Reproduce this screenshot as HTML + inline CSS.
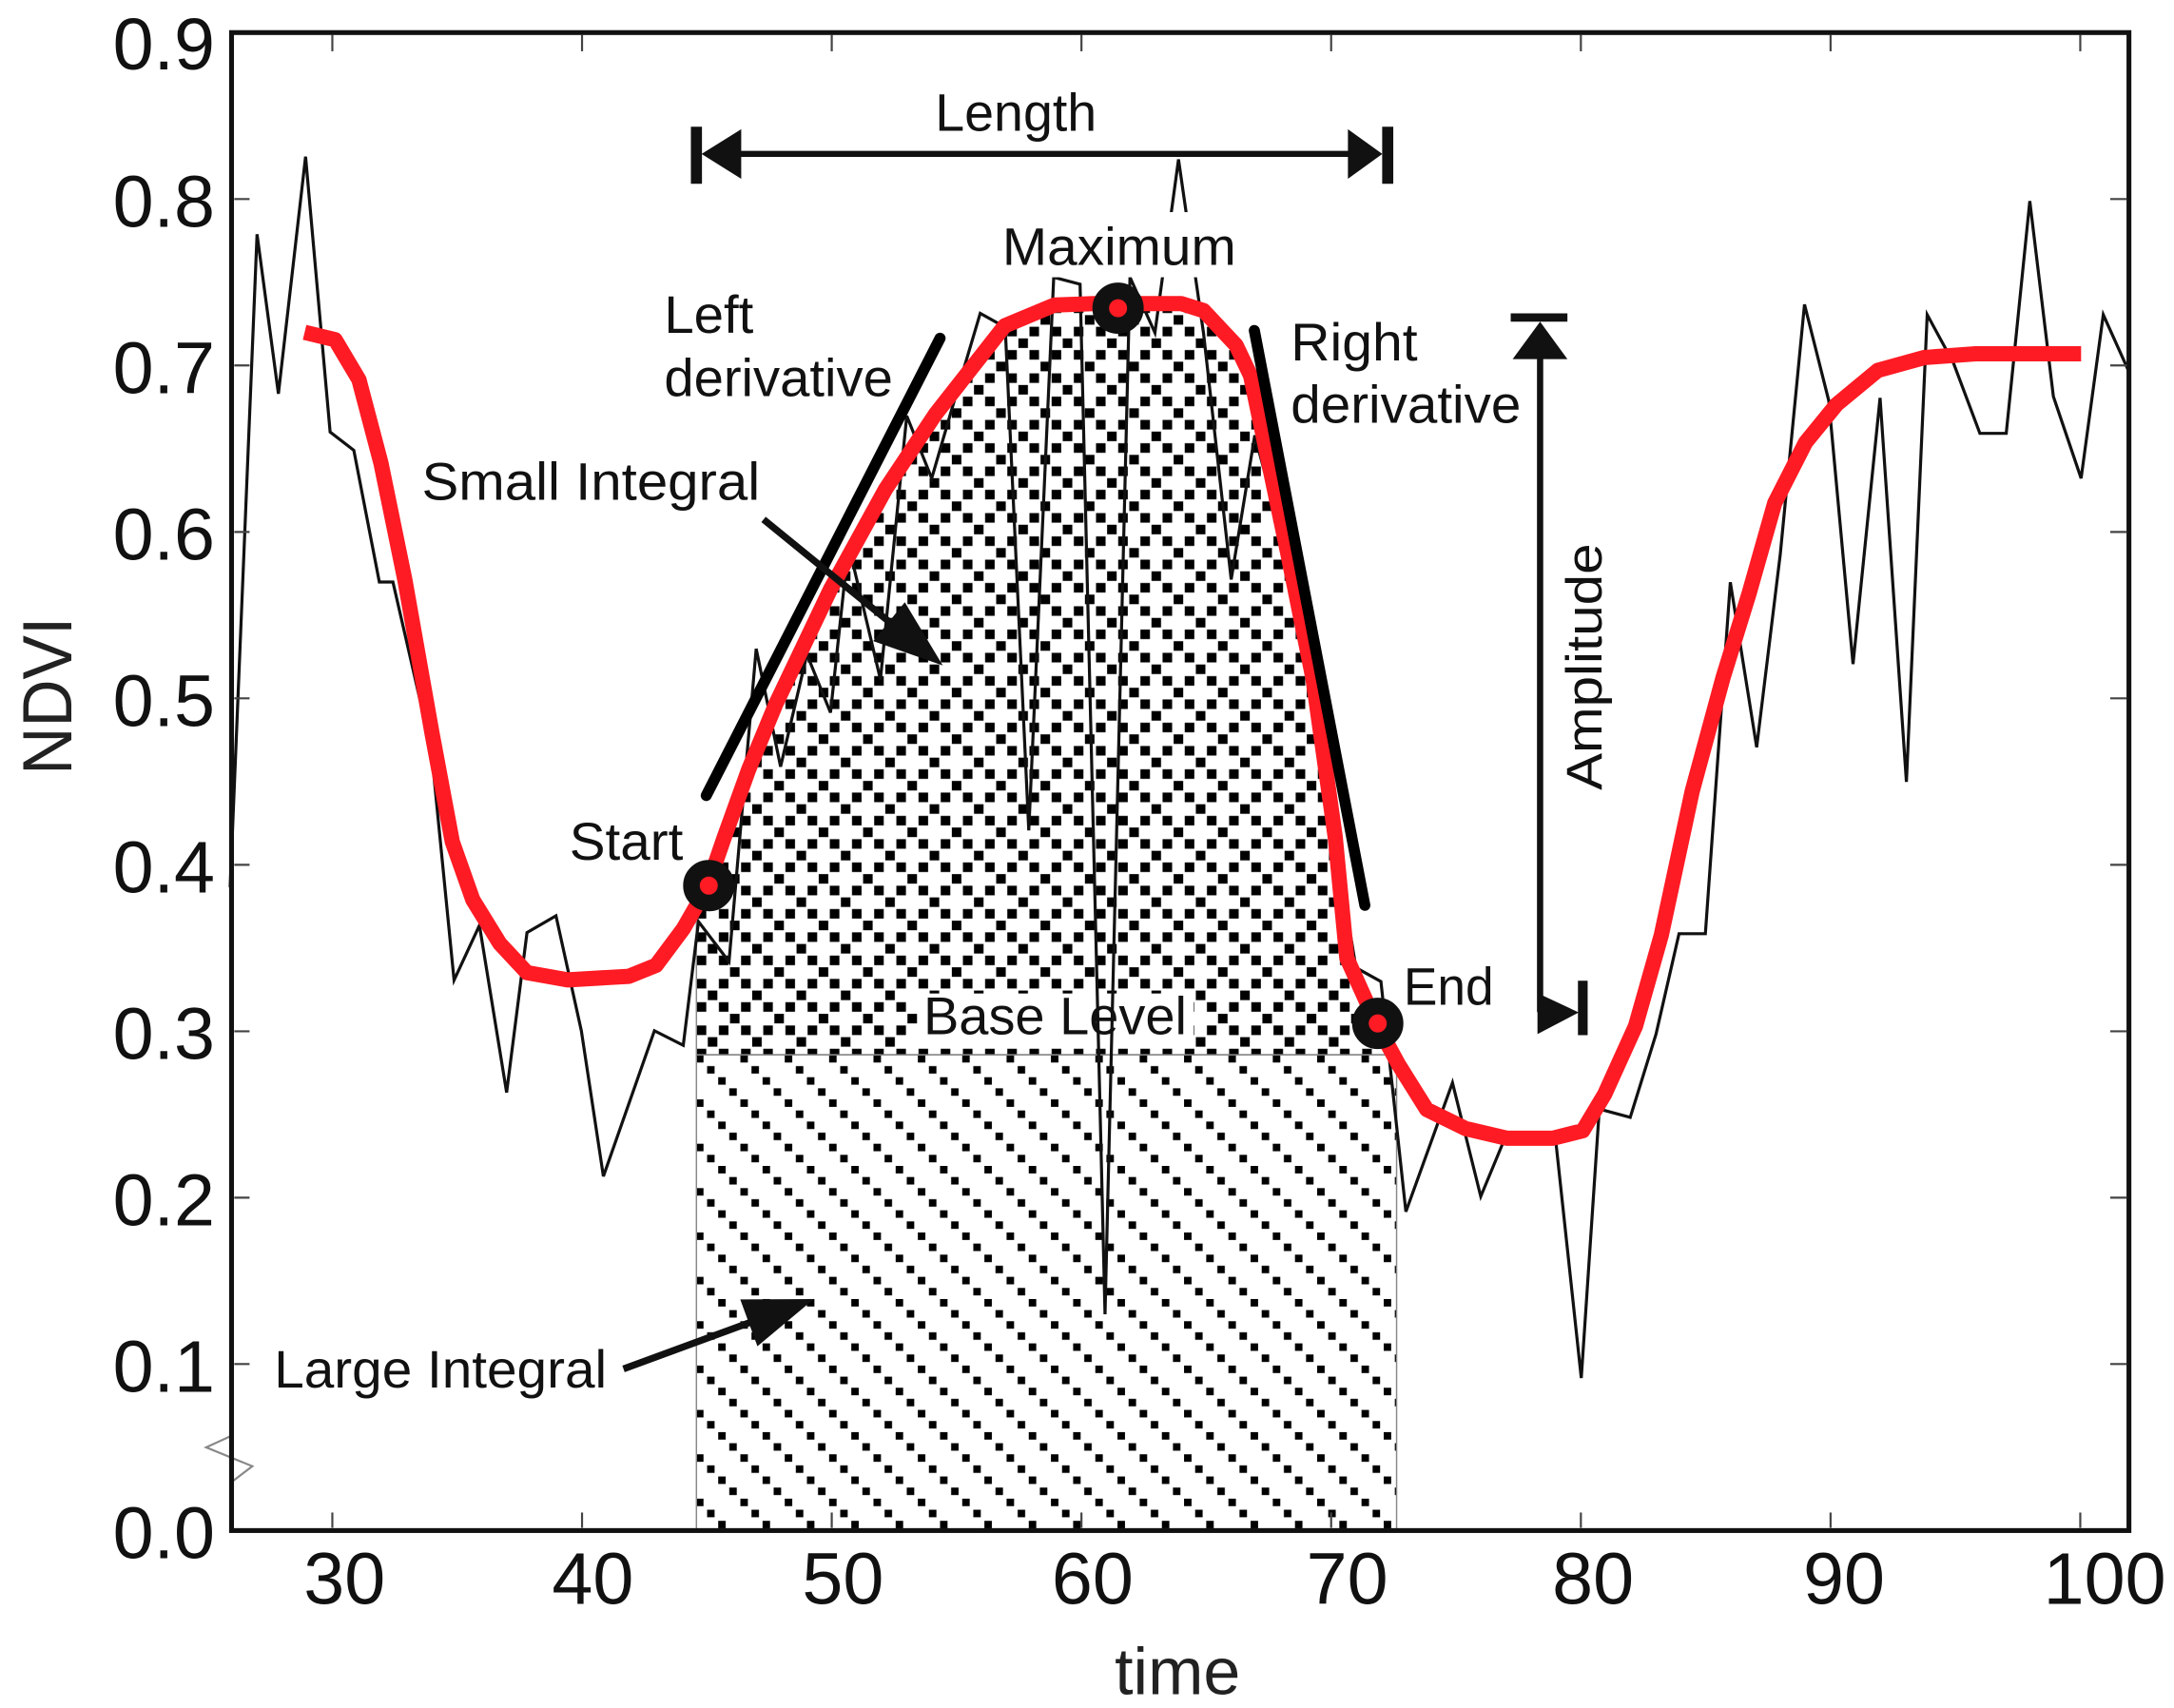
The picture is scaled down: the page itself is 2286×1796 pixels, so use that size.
<!DOCTYPE html>
<html>
<head>
<meta charset="utf-8">
<style>
html,body{margin:0;padding:0;background:#fff;}
svg{display:block;}
</style>
</head>
<body>
<svg width="2286" height="1796" viewBox="0 0 1568 1232" preserveAspectRatio="none" xmlns="http://www.w3.org/2000/svg" font-family="'Liberation Sans', Arial, sans-serif">
<defs>
  <pattern id="chk" patternUnits="userSpaceOnUse" x="502" y="0" width="32" height="33.6">
    <rect x="0.5" y="0.5" width="6.9" height="6.9" fill="#000"/>
    <rect x="16.5" y="0.5" width="6.9" height="6.9" fill="#000"/>
    <rect x="8.5" y="8.9" width="6.9" height="6.9" fill="#000"/>
    <rect x="0.5" y="17.3" width="6.9" height="6.9" fill="#000"/>
    <rect x="16.5" y="17.3" width="6.9" height="6.9" fill="#000"/>
    <rect x="24.5" y="25.7" width="6.9" height="6.9" fill="#000"/>
  </pattern>
  <pattern id="hat" patternUnits="userSpaceOnUse" x="502" y="761" width="32" height="32">
    <rect x="0" y="0" width="5.4" height="5.4" fill="#000"/>
    <rect x="8" y="8" width="5.4" height="5.4" fill="#000"/>
    <rect x="16" y="16" width="5.4" height="5.4" fill="#000"/>
    <rect x="24" y="24" width="5.4" height="5.4" fill="#000"/>
  </pattern>
</defs>

<rect x="0" y="0" width="1568" height="1232" fill="#fff"/>

<!-- Large integral hatch -->
<rect x="502.3" y="760.8" width="505" height="343" fill="url(#hat)" stroke="#888" stroke-width="1"/>
<!-- Small integral checker -->
<polygon fill="url(#chk)" stroke="#888" stroke-width="1" points="502.3,760.8 502.3,653.5 510,640 522,605 540,555 559.7,507.5 599,425 638.6,353 674.5,299 699.6,267 724.7,235 760.5,220 789,219 852,219 868,224 891.5,249 902,271 911,314 929,400 947,489.5 963,603.6 971.4,691 993,739 1007.3,764 1007.3,760.8"/>

<!-- Base level label -->
<rect x="662" y="716.6" width="199" height="39.4" fill="#fff"/>
<text x="666" y="746" font-size="38" fill="#111" textLength="190" lengthAdjust="spacingAndGlyphs">Base Level</text>

<!-- noisy NDVI -->
<polyline fill="none" stroke="#111" stroke-width="2.2" stroke-linejoin="miter" points="166,640 185.4,169 200.8,284 220.4,113 238.1,311.6 255.2,324.8 273.6,419.8 283.4,419.8 311,540 327.5,707 345.8,667.5 365.4,788 380.1,672.7 401,660.6 419.3,743.5 435.2,848.5 472,743.5 492.8,754 503.8,664.8 525.8,693.7 545.4,468 563,553 582,472 599,514 612,393 635,490 654,300 672,345 688,290 707,226 725,236 742,599 760,200 779,205 797,948 815,200 833,240 850,115 868,240 888,418 905,314 924,385 942,455 960,590 978,698 996,708 1014,874 1047.6,781 1068,863 1085,822 1122,822 1140.5,994 1153.5,800 1175.8,806 1194.4,746 1211,673.5 1230,673.5 1248,420 1267,539 1284,400 1301.5,219.6 1319,289 1336.5,479 1356,287 1375,564 1390,227 1409,262 1428,312.6 1447,312.6 1464,145 1481,286 1501,345 1517,227 1535,267"/>

<!-- Maximum label with white box -->
<rect x="716" y="153" width="180" height="47" fill="#fff"/>

<!-- smoothed red curve -->
<polyline fill="none" stroke="#fe1b24" stroke-width="11" stroke-linejoin="round" points="219.7,239.7 241.7,245 258.9,273.9 274.8,334.2 292,418.2 311.5,528.4 326.2,607.1 341,649 360.5,680.6 380.1,701.6 409.5,706.8 453.6,704.2 473.2,696.3 492.8,670 510,640 522,605 540,555 559.7,507.5 599,425 638.6,353 674.5,299 699.6,267 724.7,235 760.5,220 789,219 852,219 868,224 891.5,249 902,271 911,314 929,400 947,489.5 963,603.6 971.4,691 993,739 1008.5,767.5 1029,800.3 1057,814 1086.6,821 1120,821 1141.6,815.6 1157.3,789.4 1179.6,740.2 1198.2,674.6 1220.5,570.7 1242.8,488.6 1261.4,428.5 1280,362.9 1302.3,319.1 1324.6,291.8 1354.3,267.2 1387.8,257.9 1425,255.2 1501,255.2"/>

<!-- derivative lines -->
<line x1="678" y1="244" x2="509.4" y2="573.8" stroke="#000" stroke-width="8" stroke-linecap="round"/>
<line x1="904.7" y1="238.4" x2="984.4" y2="653" stroke="#000" stroke-width="8" stroke-linecap="round"/>

<!-- key points -->
<circle cx="511.2" cy="638.8" r="12.5" fill="#fe1b24" stroke="#111" stroke-width="12"/>
<circle cx="806.4" cy="222.3" r="12.5" fill="#fe1b24" stroke="#111" stroke-width="12"/>
<circle cx="993.7" cy="738.2" r="12.5" fill="#fe1b24" stroke="#111" stroke-width="12"/>

<!-- Length arrow -->
<line x1="520" y1="111" x2="985" y2="111" stroke="#111" stroke-width="4.3"/>
<line x1="502.3" y1="91.4" x2="502.3" y2="132.6" stroke="#111" stroke-width="8"/>
<line x1="1000.9" y1="91.4" x2="1000.9" y2="132.6" stroke="#111" stroke-width="8"/>
<polygon points="506,111 534.6,93.2 534.6,129" fill="#111"/>
<polygon points="997,111 972.2,93.2 972.2,129" fill="#111"/>

<!-- Amplitude arrow -->
<line x1="1110.8" y1="245" x2="1110.8" y2="730" stroke="#111" stroke-width="4.5"/>
<line x1="1089.6" y1="229" x2="1130.5" y2="229" stroke="#111" stroke-width="6"/>
<polygon points="1110.8,232 1091,259 1130.5,259" fill="#111"/>
<polygon points="1108.9,716.3 1108.9,745.9 1138.7,730.3" fill="#111"/>
<line x1="1141.6" y1="707.4" x2="1141.6" y2="746.7" stroke="#111" stroke-width="7"/>

<!-- Small integral arrow -->
<line x1="550.7" y1="374.7" x2="645" y2="451.5" stroke="#111" stroke-width="5"/>
<polygon points="680,480 629.8,462.4 652.6,434.4" fill="#111"/>
<!-- Large integral arrow -->
<line x1="449.7" y1="987.4" x2="545" y2="952.4" stroke="#111" stroke-width="5"/>
<polygon points="587,937 546.3,971.1 533.9,937.3" fill="#111"/>

<!-- annotation text -->
<g font-size="38" fill="#111">
  <text x="674.4" y="94.2" textLength="116.6" lengthAdjust="spacingAndGlyphs">Length</text>
  <text x="722.9" y="191.1" textLength="168.6" lengthAdjust="spacingAndGlyphs">Maximum</text>
  <text x="479" y="240.2" textLength="64.5" lengthAdjust="spacingAndGlyphs">Left</text>
  <text x="479" y="285.8" textLength="165" lengthAdjust="spacingAndGlyphs">derivative</text>
  <text x="931" y="260" textLength="91.4" lengthAdjust="spacingAndGlyphs">Right</text>
  <text x="931" y="304.8" textLength="166" lengthAdjust="spacingAndGlyphs">derivative</text>
  <text x="304.2" y="360.4" textLength="244" lengthAdjust="spacingAndGlyphs">Small Integral</text>
  <text x="410.7" y="620.2" textLength="82" lengthAdjust="spacingAndGlyphs">Start</text>
  <text x="1012.3" y="724.9" textLength="65" lengthAdjust="spacingAndGlyphs">End</text>
  <text x="197.7" y="1001" textLength="240" lengthAdjust="spacingAndGlyphs">Large Integral</text>
  <text transform="translate(1155,481) rotate(-90)" text-anchor="middle" font-size="36" textLength="178" lengthAdjust="spacingAndGlyphs">Amplitude</text>
</g>

<!-- small artifact near y-axis -->
<polyline points="166.2,1036 148.7,1044 182,1057.6 167.3,1068.8" fill="none" stroke="#888" stroke-width="1.5"/>

<!-- axes frame -->
<rect x="167" y="23.5" width="1368.5" height="1080.5" fill="none" stroke="#111" stroke-width="3.5"/>

<!-- ticks -->
<g stroke="#444" stroke-width="1.5">
  <line x1="169" y1="983.9" x2="180" y2="983.9"/>
  <line x1="169" y1="863.9" x2="180" y2="863.9"/>
  <line x1="169" y1="743.9" x2="180" y2="743.9"/>
  <line x1="169" y1="623.8" x2="180" y2="623.8"/>
  <line x1="169" y1="503.7" x2="180" y2="503.7"/>
  <line x1="169" y1="383.7" x2="180" y2="383.7"/>
  <line x1="169" y1="263.6" x2="180" y2="263.6"/>
  <line x1="169" y1="143.6" x2="180" y2="143.6"/>
  <line x1="1522" y1="983.9" x2="1534" y2="983.9"/>
  <line x1="1522" y1="863.9" x2="1534" y2="863.9"/>
  <line x1="1522" y1="743.9" x2="1534" y2="743.9"/>
  <line x1="1522" y1="623.8" x2="1534" y2="623.8"/>
  <line x1="1522" y1="503.7" x2="1534" y2="503.7"/>
  <line x1="1522" y1="383.7" x2="1534" y2="383.7"/>
  <line x1="1522" y1="263.6" x2="1534" y2="263.6"/>
  <line x1="1522" y1="143.6" x2="1534" y2="143.6"/>
  <line x1="239.7" y1="1091" x2="239.7" y2="1102"/>
  <line x1="419.8" y1="1091" x2="419.8" y2="1102"/>
  <line x1="599.9" y1="1091" x2="599.9" y2="1102"/>
  <line x1="780" y1="1091" x2="780" y2="1102"/>
  <line x1="960.1" y1="1091" x2="960.1" y2="1102"/>
  <line x1="1140.2" y1="1091" x2="1140.2" y2="1102"/>
  <line x1="1320.3" y1="1091" x2="1320.3" y2="1102"/>
  <line x1="1500.4" y1="1091" x2="1500.4" y2="1102"/>
  <line x1="239.7" y1="25" x2="239.7" y2="37"/>
  <line x1="419.8" y1="25" x2="419.8" y2="37"/>
  <line x1="599.9" y1="25" x2="599.9" y2="37"/>
  <line x1="780" y1="25" x2="780" y2="37"/>
  <line x1="960.1" y1="25" x2="960.1" y2="37"/>
  <line x1="1140.2" y1="25" x2="1140.2" y2="37"/>
  <line x1="1320.3" y1="25" x2="1320.3" y2="37"/>
  <line x1="1500.4" y1="25" x2="1500.4" y2="37"/>
</g>

<!-- tick labels -->
<g font-size="53" fill="#111" text-anchor="end">
  <text x="155" y="50">0.9</text>
  <text x="155" y="163.6">0.8</text>
  <text x="155" y="283.6">0.7</text>
  <text x="155" y="403.7">0.6</text>
  <text x="155" y="523.7">0.5</text>
  <text x="155" y="643.8">0.4</text>
  <text x="155" y="763.9">0.3</text>
  <text x="155" y="883.9">0.2</text>
  <text x="155" y="1003.9">0.1</text>
  <text x="155" y="1124">0.0</text>
</g>
<g font-size="53" fill="#111" text-anchor="middle">
  <text x="248.5" y="1157">30</text>
  <text x="427.6" y="1157">40</text>
  <text x="608" y="1157">50</text>
  <text x="788" y="1157">60</text>
  <text x="971.7" y="1157">70</text>
  <text x="1149" y="1157">80</text>
  <text x="1330" y="1157">90</text>
  <text x="1518" y="1157">100</text>
</g>

<!-- axis labels -->
<text transform="translate(51.4,502) rotate(-90)" text-anchor="middle" font-size="50" fill="#222" textLength="114" lengthAdjust="spacingAndGlyphs">NDVI</text>
<text x="849.3" y="1222" text-anchor="middle" font-size="48" fill="#222">time</text>
</svg>
</body>
</html>
